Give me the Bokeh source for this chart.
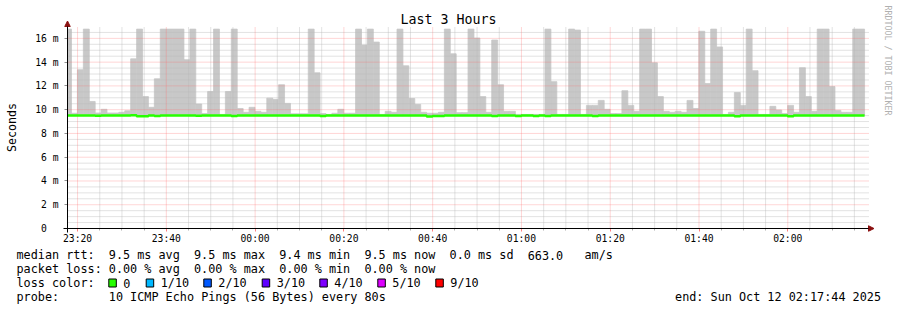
import pandas as pd
from math import pi
from bokeh.plotting import figure
from bokeh.models import (Range1d, FixedTicker, DatetimeTickFormatter, Label, Arrow,
                          NormalHead)
from bokeh.embed import file_html
from bokeh.resources import INLINE

# ---------------- data ----------------
graph_start = "2025-10-11 23:17:44"
graph_end = "2025-10-12 02:17:44"
first_step = "2025-10-11 23:17:18"
step_seconds = 80

# max rtt (top of smoke) per 80 s step, ms
rtt_max_ms = [
    16.78, 9.70, 13.36, 16.78, 10.69, 9.72, 10.03, 9.72, 9.72, 9.78,
    9.90, 14.28, 16.78, 11.10, 10.20, 12.60, 16.78, 16.78, 16.78, 16.78,
    14.20, 16.78, 10.47, 9.67, 11.53, 16.78, 9.60, 11.53, 16.78, 10.10,
    9.78, 10.20, 9.86, 9.78, 10.97, 10.86, 12.10, 10.53, 9.65, 9.65,
    9.65, 16.78, 13.10, 9.67, 9.60, 9.70, 10.03, 9.70, 9.70, 16.78,
    15.44, 16.78, 15.69, 9.60, 9.86, 9.78, 16.78, 13.69, 10.94, 10.44,
    9.78, 9.70, 9.70, 9.78, 16.78, 14.70, 9.75, 9.75, 16.78, 16.03,
    11.10, 9.78, 15.86, 12.10, 9.86, 9.86, 9.60, 9.60, 9.60, 9.60,
    9.60, 16.78, 12.36, 9.60, 9.60, 16.78, 16.70, 9.60, 10.36, 10.36,
    10.78, 10.03, 9.67, 9.67, 11.60, 10.36, 9.86, 16.78, 16.78, 13.94,
    11.10, 9.86, 9.78, 9.86, 9.78, 10.78, 10.10, 16.60, 12.20, 16.78,
    15.28, 9.60, 9.78, 11.44, 10.36, 16.78, 13.28, 9.60, 9.60, 10.28,
    9.97, 9.67, 10.36, 9.78, 13.53, 11.10, 9.86, 16.78, 16.78, 11.94,
    9.94, 9.78, 9.78, 16.78, 16.78,
]
# median rtt per step, ms
rtt_median_ms = [
    9.50, 9.50, 9.50, 9.50, 9.50, 9.48, 9.50, 9.50, 9.50, 9.50,
    9.50, 9.53, 9.45, 9.45, 9.52, 9.47, 9.50, 9.52, 9.52, 9.52,
    9.52, 9.50, 9.48, 9.50, 9.50, 9.50, 9.50, 9.50, 9.47, 9.50,
    9.50, 9.50, 9.50, 9.50, 9.50, 9.50, 9.50, 9.50, 9.50, 9.50,
    9.50, 9.50, 9.50, 9.47, 9.50, 9.50, 9.50, 9.50, 9.50, 9.50,
    9.50, 9.50, 9.50, 9.50, 9.50, 9.50, 9.50, 9.50, 9.50, 9.50,
    9.50, 9.42, 9.47, 9.47, 9.50, 9.50, 9.50, 9.50, 9.50, 9.50,
    9.50, 9.50, 9.47, 9.50, 9.50, 9.50, 9.47, 9.50, 9.50, 9.47,
    9.50, 9.47, 9.50, 9.50, 9.50, 9.50, 9.50, 9.50, 9.50, 9.47,
    9.50, 9.50, 9.50, 9.50, 9.50, 9.50, 9.50, 9.50, 9.50, 9.50,
    9.50, 9.50, 9.50, 9.50, 9.50, 9.50, 9.50, 9.50, 9.50, 9.50,
    9.50, 9.50, 9.50, 9.45, 9.50, 9.50, 9.50, 9.50, 9.50, 9.50,
    9.50, 9.50, 9.45, 9.50, 9.50, 9.50, 9.50, 9.50, 9.50, 9.50,
    9.50, 9.50, 9.50, 9.50, 9.50,
]

x_tick_labels = ["23:20", "23:40", "00:00", "00:20", "00:40", "01:00", "01:20", "01:40", "02:00"]
y_tick_values = [0, 2, 4, 6, 8, 10, 12, 14, 16]
y_tick_labels = ["0\u00a0\u00a0", "2 m", "4 m", "6 m", "8 m", "10 m", "12 m", "14 m", "16 m"]

loss_labels = ["0", "1/10", "2/10", "3/10", "4/10", "5/10", "9/10"]
loss_colors = ["#26ff00", "#00b8ff", "#0059ff", "#5e00ff", "#7e00ff", "#dd00ff", "#ff0000"]

title_text = "Last 3 Hours"
ylabel_text = "Seconds"
watermark = "RRDTOOL / TOBI OETIKER"
rtt_line = ["median rtt:", "9.5 ms avg", "9.5 ms max", "9.4 ms min", "9.5 ms now",
            "0.0 ms sd", "663.0", "am/s"]
loss_line = ["packet loss:", "0.00 % avg", "0.00 % max", "0.00 % min", "0.00 % now"]
probe_line = ["probe:", "10 ICMP Echo Pings (56 Bytes) every 80s"]
end_text = "end: Sun Oct 12 02:17:44 2025"

# ---------------- geometry helpers ----------------
def ms(ts):
    return pd.Timestamp(ts).value / 1e6

x0, x1 = ms(graph_start), ms(graph_end)
Y0, Y1 = 0.0, 17.0
FL, FR, FT, FB = 67, 866, 26, 228      # graph area in canvas pixels
W, H = 897, 310

def X(px):
    return x0 + (px - FL) / (FR - FL) * (x1 - x0)

def Y(py):
    return Y0 + (FB - py) / (FB - FT) * (Y1 - Y0)

n = len(rtt_max_ms)
t0 = pd.Timestamp(first_step)
edges = [(t0 + pd.Timedelta(seconds=step_seconds * j)).value / 1e6 for j in range(n + 1)]
left_clip = [max(e, x0) for e in edges]

# ---------------- figure (frame covers the whole canvas) ----------------
p = figure(width=W, height=H, x_axis_type="datetime",
           x_range=Range1d(X(0), X(W)), y_range=Range1d(Y(H), Y(0)),
           output_backend="svg", toolbar_location=None,
           min_border=0, min_border_left=0, min_border_right=0,
           min_border_top=0, min_border_bottom=0)
p.outline_line_color = None
p.background_fill_color = "white"
p.border_fill_color = "white"
p.xgrid.visible = False
p.ygrid.visible = False

# smoke (max rtt above median)
SMOKE = "#c8c8c8"
p.quad(left=left_clip[:-1], right=left_clip[1:], bottom=rtt_median_ms, top=rtt_max_ms,
       fill_color=SMOKE, line_color=SMOKE, line_width=0.8)

# ticks
def tick_date(lbl):
    day = "2025-10-11" if lbl.startswith("23") else "2025-10-12"
    return ms(day + " " + lbl)

x_ticks = [tick_date(l) for l in x_tick_labels]
five_min = 5 * 60 * 1000
m = tick_date("23:20") - 4 * five_min
x_minor = []
while m < x1:
    if m > x0 and all(abs(m - t) > 1 for t in x_ticks):
        x_minor.append(m)
    m += five_min
y_minor = [v * 0.5 for v in range(1, 34) if v % 4 != 0]
y_major = [v for v in y_tick_values if v > 0]

# grid, drawn over the smoke
GRID_MINOR = "#b8b8b8"
GRID_MAJOR = "#ff6a6a"
p.segment(x0=[x0] * len(y_minor), x1=[X(868)] * len(y_minor), y0=y_minor, y1=y_minor,
          line_color=GRID_MINOR, line_dash="1 1", line_width=1, line_alpha=0.8)
p.segment(x0=x_minor, x1=x_minor, y0=[0] * len(x_minor), y1=[Y(FT)] * len(x_minor),
          line_color=GRID_MINOR, line_dash="1 1", line_width=1, line_alpha=0.8)
p.segment(x0=[x0] * len(y_major), x1=[X(868)] * len(y_major), y0=y_major, y1=y_major,
          line_color=GRID_MAJOR, line_dash="1 1", line_width=1, line_alpha=0.55)
p.segment(x0=x_ticks, x1=x_ticks, y0=[0] * len(x_ticks), y1=[Y(FT)] * len(x_ticks),
          line_color=GRID_MAJOR, line_dash="1 1", line_width=1, line_alpha=0.55)

# median
p.step(x=left_clip, y=rtt_median_ms + [rtt_median_ms[-1]], mode="after",
       line_width=2.5, line_color=loss_colors[0])

# axes at fixed locations inside the canvas
p.xaxis.fixed_location = 0
p.xaxis.bounds = (x0, x1)
p.yaxis.fixed_location = x0
p.yaxis.bounds = (0, 17)
p.xaxis.ticker = FixedTicker(ticks=x_ticks, minor_ticks=x_minor)
p.xaxis.formatter = DatetimeTickFormatter(minutes="%H:%M", hours="%H:%M",
                                          hourmin="%H:%M", days="%H:%M")
p.yaxis.ticker = FixedTicker(ticks=y_tick_values, minor_ticks=y_minor)
p.yaxis.major_label_overrides = dict(zip(y_tick_values, y_tick_labels))

for ax in (p.xaxis, p.yaxis):
    ax.axis_line_color = None
    ax.major_label_text_font = "DejaVu Sans Mono"
    ax.major_label_text_font_size = "9.7px"
    ax.major_label_text_color = "black"
    ax.major_tick_in = 0
    ax.major_tick_out = 3
    ax.minor_tick_in = 0

p.xaxis.major_label_standoff = 1
p.xaxis.major_tick_line_color = "#ff8080"
p.xaxis.minor_tick_out = 2
p.xaxis.minor_tick_line_color = "#b0b0b0"
p.yaxis.major_label_standoff = 5
p.yaxis.major_tick_line_color = "#909090"
p.yaxis.minor_tick_line_color = None

# axis lines with arrow heads
arrow_col = "#8b1010"
p.add_layout(Arrow(x_start=X(63), y_start=0, x_end=X(873.5), y_end=0,
                   line_color="black", line_width=1,
                   end=NormalHead(size=5.5, fill_color=arrow_col, line_color=arrow_col)))
p.add_layout(Arrow(x_start=x0, y_start=Y(232), x_end=x0, y_end=Y(20.5),
                   line_color="black", line_width=1,
                   end=NormalHead(size=5.5, fill_color=arrow_col, line_color=arrow_col)))

MONO = "DejaVu Sans Mono"

def lab(px, py, text, size="11.8px", align="left", baseline="middle",
        angle=0.0, color="black"):
    p.add_layout(Label(x=X(px), y=Y(py), text=text, text_font=MONO,
                       text_font_size=size, text_align=align,
                       text_baseline=baseline, angle=angle, text_color=color))

lab(448, 19.3, title_text, size="13.3px", align="center")
lab(11.5, 127, ylabel_text, size="11.6px", align="center", angle=pi / 2)
lab(887.5, 5, watermark, size="8.3px", align="left", angle=-pi / 2, color="#b0b0b0")

CW = 7.1
L1, L2, L3, L4 = 254.6, 268.6, 282.6, 296.6
rtt_cols = [0, 13, 25, 37, 49, 61, 72, 80]
for c, t in zip(rtt_cols, rtt_line):
    lab(16 + c * CW, L1, t)
loss_cols = [0, 13, 25, 37, 49]
for c, t in zip(loss_cols, loss_line):
    lab(16 + c * CW, L2, t)
lab(16, L3, "loss color:")
box_x = [108.3, 145.7, 203.3, 261.7, 319.3, 377.3, 435.3]
p.quad(left=[X(b) for b in box_x], right=[X(b + 7.5) for b in box_x],
       top=[Y(278.5)] * len(box_x), bottom=[Y(286.5)] * len(box_x),
       fill_color=loss_colors, line_color="black", line_width=1)
for bx, t in zip(box_x, loss_labels):
    lab(bx + 14.5, L3, t)
lab(16, L4, probe_line[0])
lab(16 + 13 * CW, L4, probe_line[1])
lab(880.5, L4, end_text, align="right")

open("out.html", "w").write(file_html(p, INLINE))
